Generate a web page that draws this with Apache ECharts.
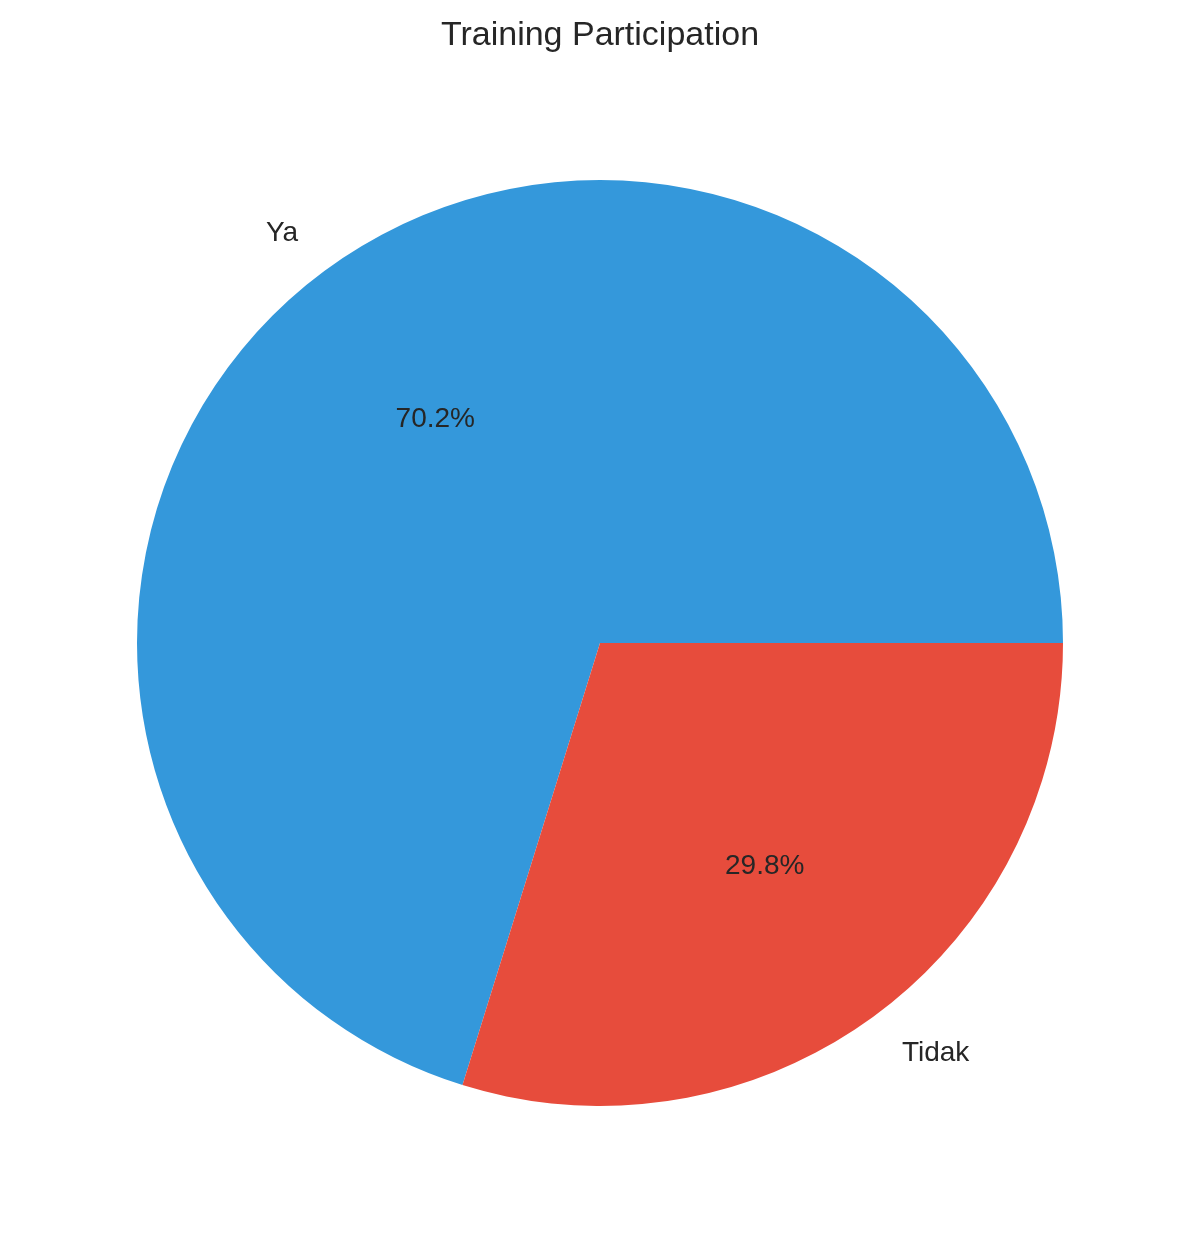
<!DOCTYPE html>
<html>
<head>
<meta charset="utf-8">
<title>Training Participation</title>
<script src="https://cdn.jsdelivr.net/npm/echarts@6/dist/echarts.min.js"></script>
<style>
  html, body { margin: 0; padding: 0; background: #fff; }
  #chart { width: 1200px; height: 1243px; }
</style>
</head>
<body>
<div id="chart"></div>
<script>
// data
const categories = ['Ya', 'Tidak'];
const shares = [70.2, 29.8];

const palette = ['#3498db', '#e74c3c'];
const textColor = '#262626';
const font = 'Liberation Sans, Arial, Helvetica, sans-serif';

const R = 463;            // pie radius
const center = [600, 643];

const chart = echarts.init(document.getElementById('chart'));

const pieData = categories.map(function (name, i) {
  return { name: name, value: shares[i] };
});

const option = {
  backgroundColor: '#fff',
  animation: false,
  color: palette,
  title: {
    text: 'Training Participation',
    left: 'center',
    top: 14,
    textStyle: { fontFamily: font, fontSize: 34, fontWeight: 'normal', color: textColor }
  },
  series: [
    {
      // slices + category labels at 1.1 * radius
      type: 'pie',
      center: center,
      radius: R,
      startAngle: 0,
      clockwise: false,
      avoidLabelOverlap: false,
      silent: true,
      label: {
        show: true,
        position: 'outside',
        formatter: '{b}',
        fontFamily: font,
        fontSize: 28,
        color: textColor,
        distanceToLabelLine: 0
      },
      labelLine: { show: false, length: R * 0.1, length2: 0 },
      itemStyle: { borderWidth: 0 },
      data: pieData
    },
    {
      // percentage labels at 0.6 * radius
      type: 'pie',
      center: center,
      radius: [0, R * 1.2 - 6],
      startAngle: 0,
      clockwise: false,
      avoidLabelOverlap: false,
      silent: true,
      percentPrecision: 1,
      label: {
        show: true,
        position: 'inside',
        formatter: '{d}%',
        fontFamily: font,
        fontSize: 28,
        color: textColor
      },
      labelLine: { show: false },
      itemStyle: { color: 'rgba(0,0,0,0)', borderWidth: 0 },
      data: pieData
    }
  ]
};

chart.setOption(option);
</script>
</body>
</html>
